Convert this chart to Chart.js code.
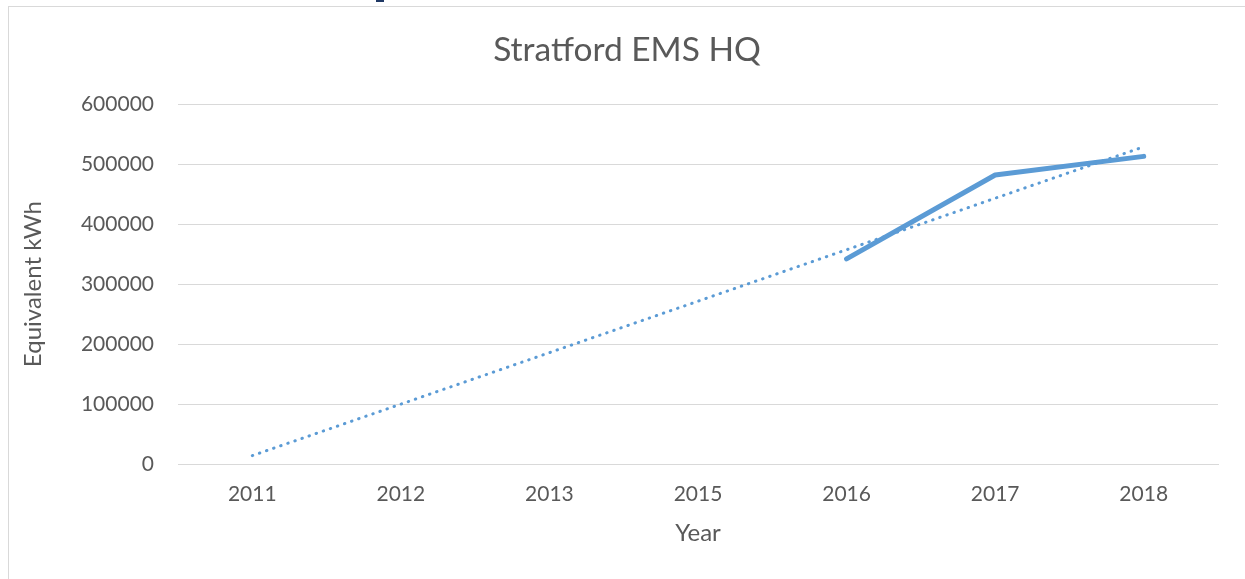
<!DOCTYPE html>
<html>
<head>
<meta charset="utf-8">
<script src="https://cdn.jsdelivr.net/npm/chart.js@4/dist/chart.umd.min.js"></script>
<style>
  html, body { margin: 0; padding: 0; background: #fff; }
  body { width: 1245px; height: 579px; position: relative; overflow: hidden; }
  #frame { position: absolute; left: 8px; top: 6px; width: 1237px; height: 573px;
           border-left: 1px solid #d9d9d9; border-top: 1px solid #d9d9d9; }
  #wrap { position: absolute; left: 0; top: 0; width: 1236px; height: 572px; }
  #mark { position: absolute; left: 376px; top: 0; width: 8px; height: 2px; background: #1f3864; }
</style>
</head>
<body>
<div id="mark"></div>
<div id="frame"><div id="wrap"><canvas id="chartOne"></canvas></div></div>
<script>
/* data */
const years = ['2011', '2012', '2013', '2015', '2016', '2017', '2018'];
const usage = [null, null, null, null, 342000, 482000, 513000];
// linear trendline, only the two ends, gap spanned
const trend = [14000, null, null, null, null, null, 529000];
const yTicks = [0, 100000, 200000, 300000, 400000, 500000, 600000];

const blue = '#5b9bd5';
const grey = '#595959';
const font = 'Lato, "Open Sans", sans-serif';

// title centred on the whole canvas, not just the padded part
const centreTitle = {
    id: 'centreTitle',
    afterLayout(c) {
        const t = c.titleBlock;
        if (t) { t.left = 0; t.right = c.width; t.width = c.width; }
    }
};

const ctx = document.getElementById('chartOne').getContext('2d');
const chart1 = new Chart(ctx, {
    type: 'line',
    data: {
        labels: years,
        datasets: [{
            label: 'Equivalent kWh',
            data: usage,
            borderColor: blue,
            borderWidth: 5,
            pointRadius: 0,
            borderCapStyle: 'round',
            borderJoinStyle: 'round',
            tension: 0
        }, {
            label: 'Linear trend',
            data: trend,
            spanGaps: true,
            borderColor: blue,
            borderWidth: 3,
            borderDash: [0.5, 7],
            borderCapStyle: 'round',
            pointRadius: 0,
            tension: 0
        }]
    },
    plugins: [centreTitle],
    options: {
        responsive: true,
        maintainAspectRatio: false,
        animation: false,
        layout: { padding: { left: 0, right: 27, top: 0, bottom: 31 } },
        plugins: {
            legend: { display: false },
            tooltip: { enabled: false },
            title: {
                display: true,
                text: 'Stratford EMS HQ',
                color: grey,
                font: { family: font, size: 33.5, weight: 'normal' },
                padding: { top: 23, bottom: 34 }
            }
        },
        scales: {
            x: {
                offset: true,
                afterFit: (s) => { s.height = 84; },
                grid: { display: false, drawTicks: false },
                border: { display: true, color: '#d9d9d9', width: 1 },
                ticks: { color: grey, font: { family: font, size: 21 }, padding: 18 },
                title: {
                    display: true, text: 'Year', color: grey,
                    font: { family: font, size: 24 }, padding: { top: 0, bottom: 0 }
                }
            },
            y: {
                min: 0,
                max: 600000,
                afterBuildTicks: (s) => { s.ticks = yTicks.map(v => ({ value: v })); },
                afterFit: (s) => { s.width = 169; },
                grid: { color: '#d9d9d9', lineWidth: 1, drawTicks: false },
                border: { display: false },
                ticks: {
                    color: grey, font: { family: font, size: 21 }, padding: 24,
                    callback: (v) => String(v)
                },
                title: {
                    display: true, text: 'Equivalent kWh', color: grey,
                    font: { family: font, size: 24 }, padding: { top: 10, bottom: 0 }
                }
            }
        }
    }
});
</script>
</body>
</html>
